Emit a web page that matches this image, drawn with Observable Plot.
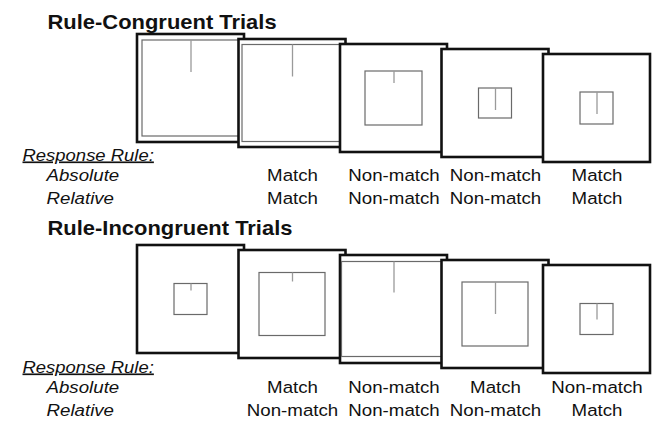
<!DOCTYPE html>
<html><head><meta charset="utf-8">
<script src="https://cdn.jsdelivr.net/npm/d3@7"></script>
<script src="https://cdn.jsdelivr.net/npm/@observablehq/plot@0.6"></script>
<style>html,body{margin:0;padding:0;background:#fff;}</style>
</head><body><div id="chart"></div>
<script>
// ---- data ----
const rowTitles = ["Rule-Congruent Trials", "Rule-Incongruent Trials"];
const ruleHeading = "Response Rule:";
const ruleNames = ["Absolute", "Relative"];
const congruentAbsolute = ["Match", "Non-match", "Non-match", "Match"];
const congruentRelative = ["Match", "Non-match", "Non-match", "Match"];
const incongruentAbsolute = ["Match", "Non-match", "Match", "Non-match"];
const incongruentRelative = ["Non-match", "Non-match", "Non-match", "Match"];
// stimulus inner square (width, height) and marker line length, in figure units
const congruentSquareW = [97, 100, 57, 33, 33];
const congruentSquareH = [96, 97, 54, 30, 32];
const congruentMarker = [32, 32, 12, 22, 22];
const incongruentSquareW = [33, 66, 104, 66, 33];
const incongruentSquareH = [31, 63, 95, 64, 31];
const incongruentMarker = [7, 9, 31, 32, 16];

// ---- layout ----
const W = 661, H = 421;
const frameW = 107, frameH = 108;
const x0 = 137, stepX = 101.5, y0 = 34, stepY = 5, rowGap = 211, textGap = 212;
const titleBase = [28, 234];
const font = "'Liberation Sans', Arial, Helvetica, sans-serif";

const rows = [
  {sw: congruentSquareW, sh: congruentSquareH, mk: congruentMarker, abs: congruentAbsolute, rel: congruentRelative},
  {sw: incongruentSquareW, sh: incongruentSquareH, mk: incongruentMarker, abs: incongruentAbsolute, rel: incongruentRelative}
];

const frames = [];
rows.forEach((r, ri) => {
  r.sw.forEach((w, i) => {
    const left = x0 + i * stepX;
    const top = y0 + i * stepY + ri * rowGap;
    const cx = left + frameW / 2, cy = top + frameH / 2;
    const h = r.sh[i];
    frames.push({left, top, right: left + frameW, bottom: top + frameH, cx, cy,
      il: cx - w / 2, ir: cx + w / 2, it: cy - h / 2, ib: cy + h / 2, mEnd: cy - h / 2 + r.mk[i]});
  });
});

const titles = rowTitles.map((t, ri) => ({t, x: 47, y: titleBase[ri]}));
const headings = rows.map((r, ri) => ({t: ruleHeading, x: 22, y: 160 + ri * textGap}));
const ruleLabels = rows.flatMap((r, ri) => ruleNames.map((n, k) => ({t: n, x: 46, y: 180 + k * 23 + ri * textGap})));
const answers = rows.flatMap((r, ri) => [r.abs, r.rel].flatMap((arr, k) =>
  arr.map((t, j) => ({t, x: frames[ri * 5 + j + 1].cx, y: 180 + k * 23 + ri * textGap}))));

const marks = [];
for (const f of frames) {
  marks.push(Plot.rect([f], {x1: "left", x2: "right", y1: "top", y2: "bottom", fill: "white", stroke: "#111", strokeWidth: 2.6}));
  marks.push(Plot.rect([f], {x1: "il", x2: "ir", y1: "it", y2: "ib", fill: "none", stroke: "#6a6a6a", strokeWidth: 1.2}));
  marks.push(Plot.ruleX([f], {x: "cx", y1: "it", y2: "mEnd", stroke: "#9a9a9a", strokeWidth: 1.3}));
}
marks.push(Plot.text(titles, {x: "x", y: "y", text: "t", textAnchor: "start", lineAnchor: "bottom", fontSize: 19.5, fontWeight: "bold", fontFamily: font, fill: "#111"}));
marks.push(Plot.text(headings, {x: "x", y: "y", text: "t", textAnchor: "start", lineAnchor: "bottom", fontSize: 16.8, fontStyle: "italic", fontFamily: font, fill: "#111"}));
marks.push(Plot.text(ruleLabels, {x: "x", y: "y", text: "t", textAnchor: "start", lineAnchor: "bottom", fontSize: 17, fontStyle: "italic", fontFamily: font, fill: "#111"}));
marks.push(Plot.text(answers, {x: "x", y: "y", text: "t", textAnchor: "middle", lineAnchor: "bottom", fontSize: 17, fontFamily: font, fill: "#111"}));

const chart = Plot.plot({
  width: W, height: H, margin: 0,
  x: {domain: [0, W], axis: null},
  y: {domain: [0, H], reverse: true, axis: null},
  style: {background: "white"},
  marks
});

// horizontal stretch of the lettering (the figure's type is set wide)
const textGroups = [...chart.children].filter((g) => g.tagName.toLowerCase() === "g" && g.querySelector("text"));
const [gTitle, gHeading, gRule, gAnswer] = textGroups.slice(-4);
function stretch(group, k) {
  if (!group) return;
  group.querySelectorAll("text").forEach((el) => {
    const tr = el.getAttribute("transform");
    if (tr) el.setAttribute("transform", tr + ` scale(${k},1)`);
    else {
      const x = +el.getAttribute("x") || 0, y = +el.getAttribute("y") || 0;
      el.removeAttribute("x"); el.removeAttribute("y");
      el.setAttribute("transform", `translate(${x},${y}) scale(${k},1)`);
    }
  });
}
stretch(gTitle, 1.125);
stretch(gHeading, 1.1);
stretch(gRule, 1.1);
stretch(gAnswer, 1.1);
if (gHeading) gHeading.querySelectorAll("text").forEach((el) => { el.setAttribute("text-decoration", "underline"); el.style.textDecoration = "underline"; });

document.getElementById("chart").append(chart);
</script>
</body></html>
